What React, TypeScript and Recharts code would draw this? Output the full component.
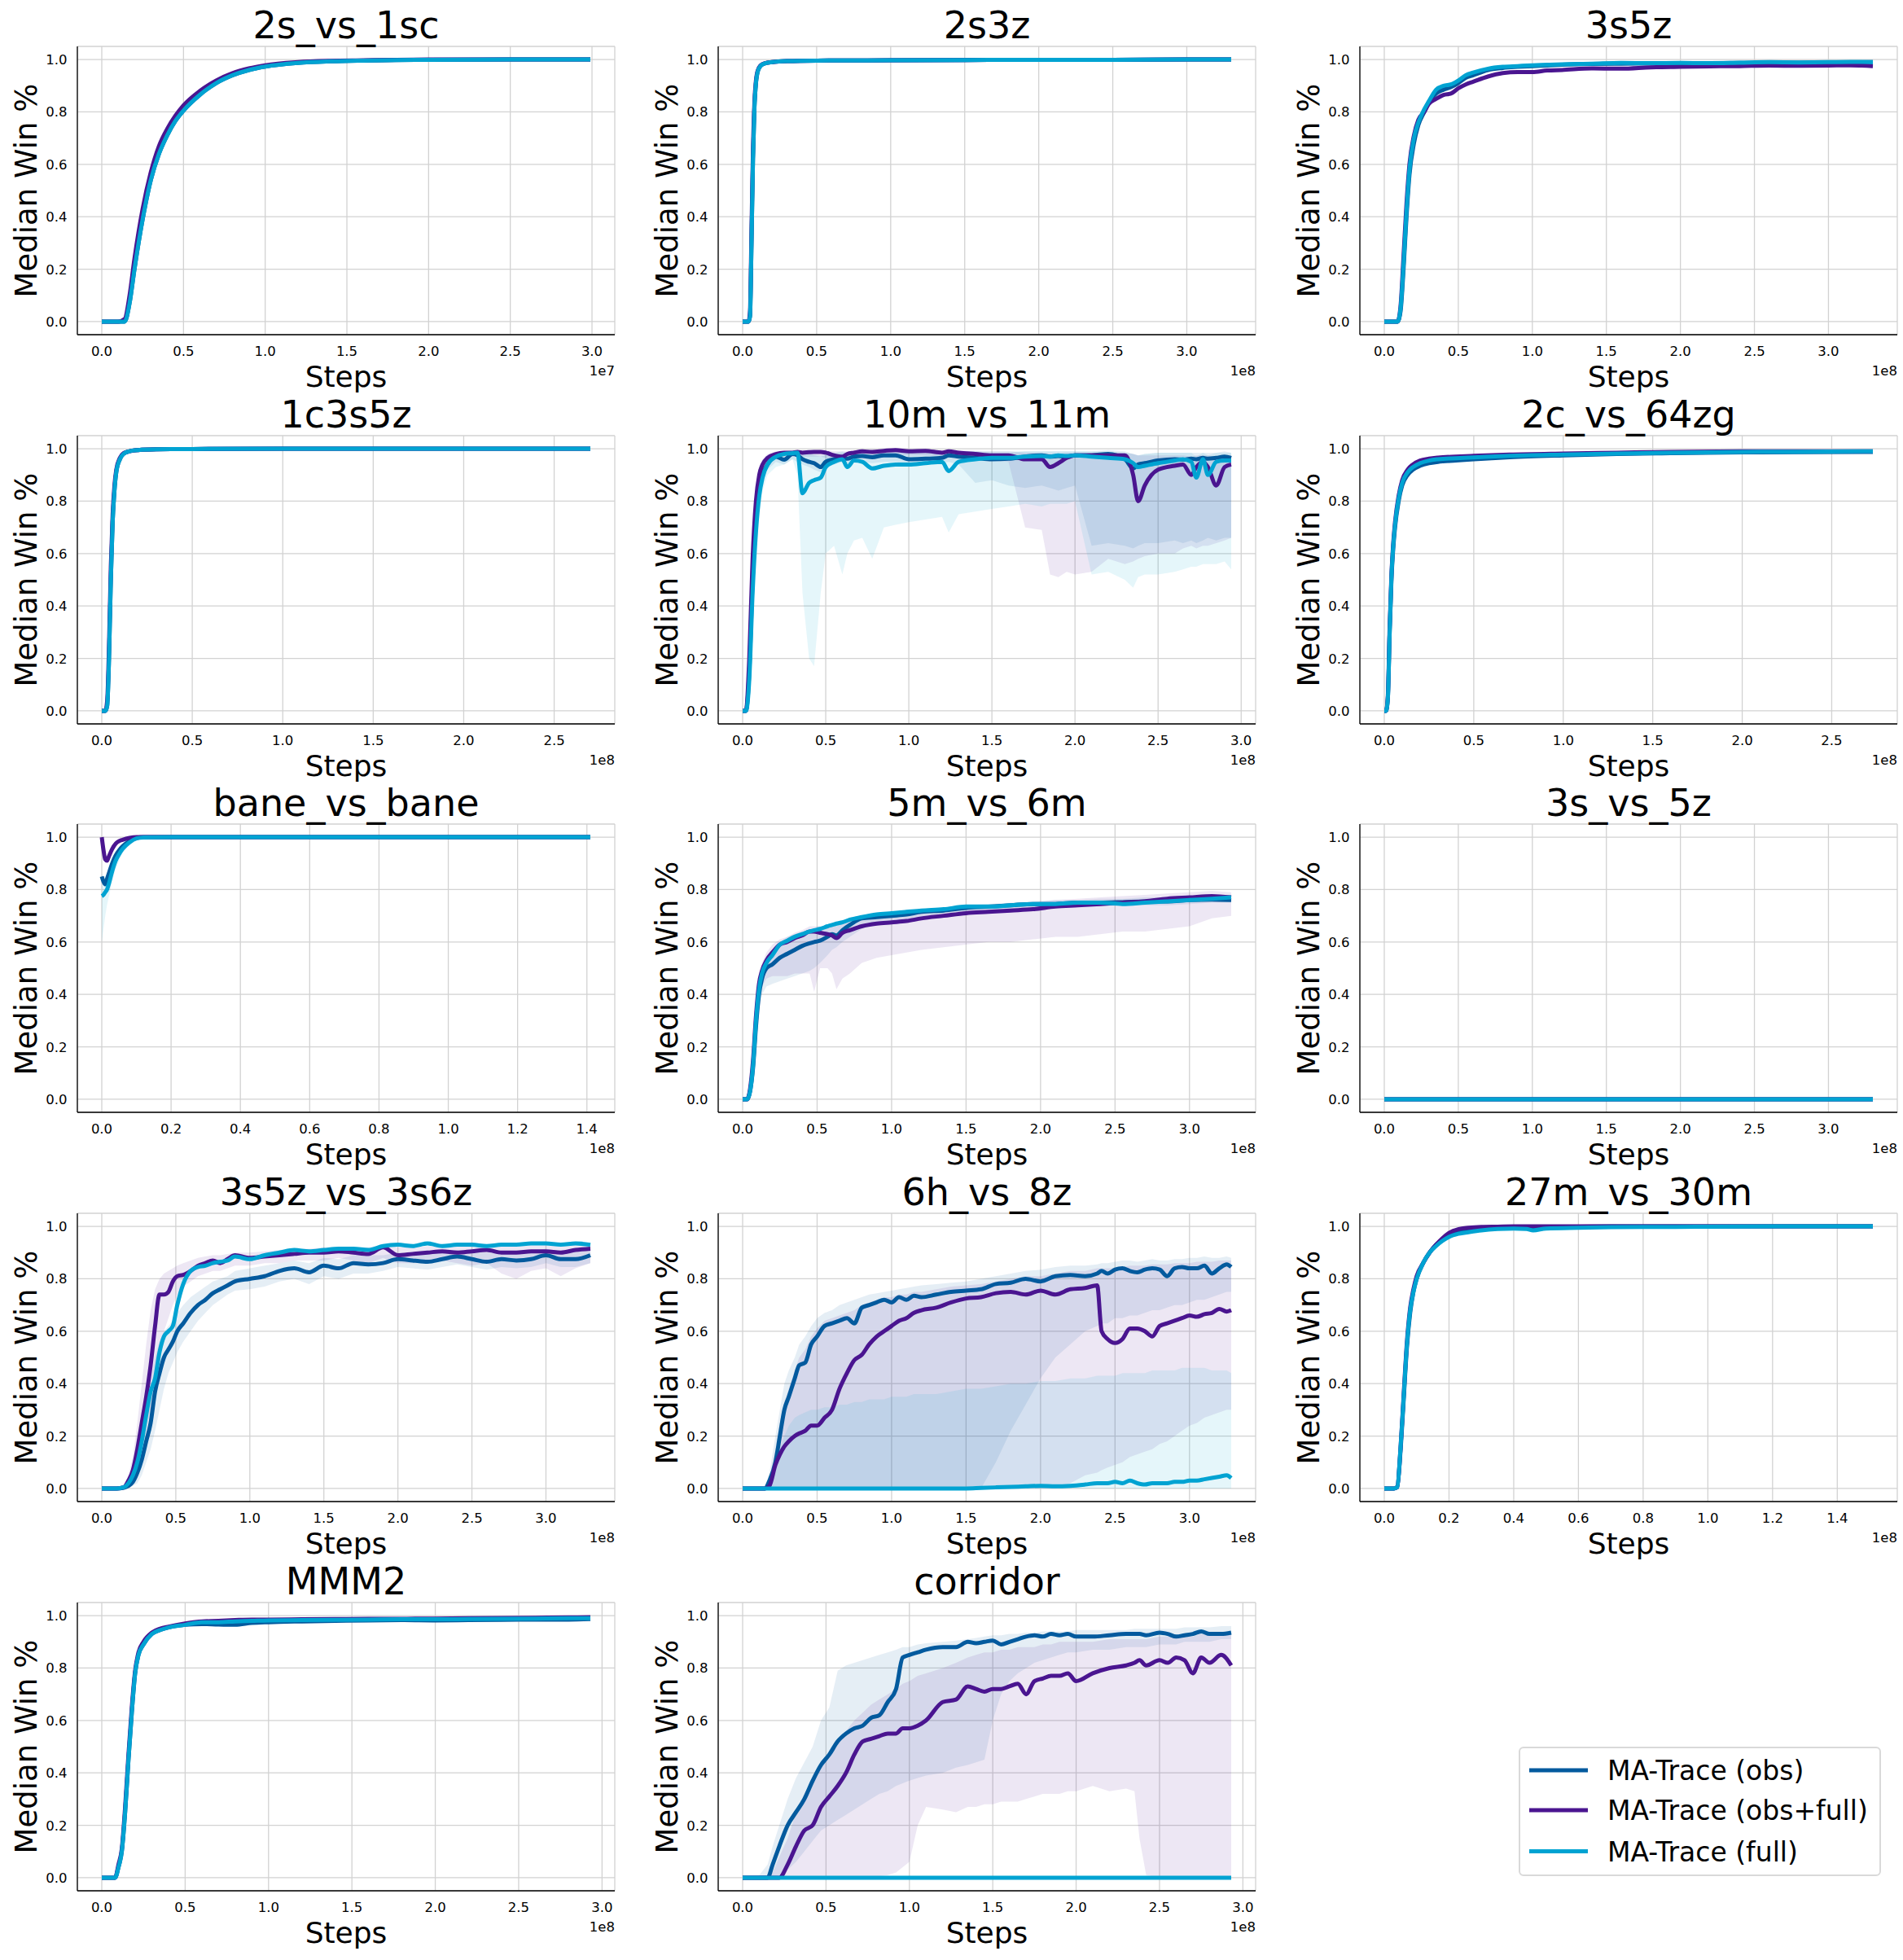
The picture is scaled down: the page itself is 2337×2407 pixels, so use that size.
import React from 'react'
import { ComposedChart, Line, Area, XAxis, YAxis, CartesianGrid } from 'recharts'

const OBS = '#035a9e'
const MIX = '#4a1590'
const FULL = '#00a3d2'
const FONT = 'DejaVu Sans'
const LW = 5

const seriesNames = ['MA-Trace (obs)', 'MA-Trace (obs+full)', 'MA-Trace (full)']
const yTicks = [0, 0.2, 0.4, 0.6, 0.8, 1.0]
const ticksHalf3 = [0, 0.5, 1.0, 1.5, 2.0, 2.5, 3.0]
const ticksHalf25 = [0, 0.5, 1.0, 1.5, 2.0, 2.5]
const ticksFifth14 = [0, 0.2, 0.4, 0.6, 0.8, 1.0, 1.2, 1.4]

// 2s_vs_1sc (x in 1e7)
const s1 = [0, 0.1, 0.14, 0.17, 0.2, 0.25, 0.3, 0.35, 0.4, 0.45, 0.5, 0.6, 0.7, 0.8, 0.9, 1.0, 1.2, 1.4, 1.6, 1.8, 2.0, 2.5, 2.99]
const obs1 = [0, 0, 0, 0.07, 0.2, 0.39, 0.54, 0.64, 0.71, 0.765, 0.805, 0.865, 0.91, 0.94, 0.96, 0.973, 0.987, 0.993, 0.996, 0.998, 0.999, 1, 1]
const mix1 = [0, 0, 0.01, 0.1, 0.24, 0.43, 0.57, 0.67, 0.735, 0.785, 0.825, 0.88, 0.92, 0.948, 0.966, 0.978, 0.99, 0.995, 0.997, 0.999, 1, 1, 1]
const full1 = [0, 0, 0, 0.07, 0.2, 0.39, 0.54, 0.64, 0.71, 0.765, 0.805, 0.865, 0.91, 0.94, 0.96, 0.973, 0.987, 0.993, 0.996, 0.998, 0.999, 1, 1]

// 2s3z
const s2 = [0, 0.04, 0.05, 0.06, 0.07, 0.08, 0.09, 0.1, 0.12, 0.15, 0.2, 0.3, 0.5, 1.0, 1.5, 2.0, 2.5, 3.0, 3.3]
const obs2 = [0, 0, 0.02, 0.3, 0.62, 0.82, 0.91, 0.95, 0.975, 0.985, 0.99, 0.994, 0.996, 0.997, 0.998, 0.999, 0.999, 1, 1]
const mix2 = [0, 0, 0.04, 0.35, 0.66, 0.84, 0.92, 0.955, 0.977, 0.986, 0.99, 0.994, 0.996, 0.997, 0.998, 0.999, 0.999, 1, 1]
const full2 = [0, 0, 0.02, 0.3, 0.62, 0.82, 0.91, 0.95, 0.975, 0.985, 0.99, 0.994, 0.996, 0.997, 0.998, 0.999, 0.999, 1, 1]

// 3s5z
const s3 = [0, 0.05, 0.09, 0.11, 0.13, 0.15, 0.17, 0.2, 0.23, 0.27, 0.3, 0.35, 0.4, 0.45, 0.5, 0.55, 0.6, 0.7, 0.8, 0.9, 1.0, 1.1, 1.2, 1.4, 1.6, 1.8, 2.0, 2.2, 2.4, 2.6, 2.8, 3.0, 3.15, 3.3]
const obs3 = [0, 0, 0, 0.04, 0.2, 0.4, 0.56, 0.68, 0.75, 0.8, 0.835, 0.87, 0.885, 0.895, 0.91, 0.93, 0.94, 0.96, 0.968, 0.972, 0.975, 0.977, 0.98, 0.983, 0.984, 0.985, 0.986, 0.986, 0.987, 0.988, 0.988, 0.989, 0.989, 0.99]
const mix3 = [0, 0, 0, 0.06, 0.25, 0.45, 0.6, 0.71, 0.77, 0.8, 0.83, 0.85, 0.865, 0.87, 0.89, 0.905, 0.915, 0.935, 0.948, 0.952, 0.952, 0.958, 0.96, 0.966, 0.965, 0.97, 0.972, 0.974, 0.975, 0.977, 0.976, 0.977, 0.978, 0.975]
const full3 = [0, 0, 0, 0.05, 0.22, 0.42, 0.58, 0.7, 0.76, 0.81, 0.84, 0.885, 0.9, 0.905, 0.92, 0.94, 0.95, 0.965, 0.972, 0.975, 0.978, 0.98, 0.982, 0.984, 0.987, 0.986, 0.987, 0.986, 0.988, 0.99, 0.989, 0.99, 0.991, 0.99]

// 1c3s5z
const s4 = [0, 0.02, 0.03, 0.04, 0.05, 0.06, 0.07, 0.08, 0.1, 0.12, 0.15, 0.2, 0.3, 0.5, 1.0, 1.5, 2.0, 2.5, 2.7]
const obs4 = [0, 0, 0.02, 0.2, 0.5, 0.72, 0.84, 0.91, 0.96, 0.98, 0.99, 0.995, 0.998, 0.999, 1, 1, 1, 1, 1]
const mix4 = [0, 0, 0.04, 0.25, 0.55, 0.75, 0.86, 0.92, 0.965, 0.983, 0.99, 0.995, 0.998, 0.999, 1, 1, 1, 1, 1]
const full4 = [0, 0, 0.02, 0.2, 0.5, 0.72, 0.84, 0.91, 0.96, 0.98, 0.99, 0.995, 0.998, 0.999, 1, 1, 1, 1, 1]

// 10m_vs_11m
const s5 = [0, 0.02, 0.04, 0.06, 0.08, 0.1, 0.12, 0.15, 0.2, 0.25, 0.3, 0.33, 0.36, 0.4, 0.43, 0.47, 0.5, 0.55, 0.6, 0.63, 0.67, 0.72, 0.78, 0.85, 0.92, 1.0, 1.1, 1.2, 1.24, 1.3, 1.4, 1.5, 1.6, 1.7, 1.8, 1.85, 1.9, 1.95, 2.0, 2.1, 2.2, 2.3, 2.35, 2.38, 2.42, 2.5, 2.6, 2.65, 2.7, 2.73, 2.77, 2.8, 2.85, 2.9, 2.94]
const obs5 = [0, 0, 0.15, 0.5, 0.72, 0.84, 0.9, 0.94, 0.97, 0.958, 0.98, 0.975, 0.96, 0.95, 0.945, 0.93, 0.95, 0.96, 0.965, 0.962, 0.97, 0.972, 0.968, 0.975, 0.975, 0.96, 0.962, 0.965, 0.975, 0.97, 0.965, 0.96, 0.962, 0.97, 0.975, 0.97, 0.972, 0.97, 0.975, 0.975, 0.98, 0.96, 0.925, 0.94, 0.945, 0.955, 0.96, 0.958, 0.962, 0.96, 0.965, 0.962, 0.965, 0.97, 0.965]
const mix5 = [0, 0, 0.2, 0.58, 0.8, 0.9, 0.94, 0.965, 0.98, 0.985, 0.985, 0.988, 0.985, 0.987, 0.988, 0.988, 0.985, 0.975, 0.97, 0.98, 0.985, 0.99, 0.988, 0.992, 0.995, 0.99, 0.992, 0.985, 0.99, 0.985, 0.98, 0.975, 0.975, 0.96, 0.96, 0.93, 0.945, 0.965, 0.975, 0.975, 0.975, 0.975, 0.9, 0.8, 0.86, 0.92, 0.935, 0.94, 0.9, 0.93, 0.95, 0.93, 0.86, 0.93, 0.94]
const full5 = [0, 0, 0.12, 0.45, 0.68, 0.82, 0.89, 0.94, 0.97, 0.98, 0.983, 0.985, 0.83, 0.87, 0.88, 0.89, 0.93, 0.95, 0.96, 0.93, 0.955, 0.95, 0.925, 0.935, 0.94, 0.94, 0.945, 0.95, 0.915, 0.95, 0.96, 0.965, 0.965, 0.97, 0.972, 0.97, 0.975, 0.972, 0.975, 0.97, 0.965, 0.96, 0.945, 0.93, 0.935, 0.945, 0.955, 0.96, 0.95, 0.89, 0.96, 0.9, 0.95, 0.955, 0.955]
const obsLo5 = [0, 0, 0.1, 0.4, 0.65, 0.8, 0.87, 0.92, 0.95, 0.94, 0.96, 0.95, 0.94, 0.93, 0.92, 0.91, 0.93, 0.94, 0.95, 0.94, 0.95, 0.95, 0.945, 0.95, 0.95, 0.94, 0.94, 0.945, 0.95, 0.94, 0.87, 0.88, 0.86, 0.85, 0.86, 0.85, 0.84, 0.85, 0.86, 0.63, 0.64, 0.63, 0.62, 0.63, 0.64, 0.64, 0.65, 0.64, 0.65, 0.64, 0.65, 0.66, 0.65, 0.66, 0.66]
const obsHi5 = [0, 0, 0.2, 0.6, 0.8, 0.9, 0.94, 0.965, 0.985, 0.985, 0.99, 0.99, 0.985, 0.98, 0.975, 0.97, 0.975, 0.98, 0.985, 0.985, 0.985, 0.99, 0.985, 0.99, 0.99, 0.985, 0.985, 0.985, 0.99, 0.99, 0.99, 0.985, 0.985, 0.99, 0.99, 0.99, 0.99, 0.99, 0.99, 0.99, 0.995, 0.99, 0.98, 0.975, 0.98, 0.985, 0.985, 0.985, 0.985, 0.985, 0.985, 0.985, 0.985, 0.99, 0.985]
const mixLo5 = [0, 0, 0.12, 0.5, 0.75, 0.86, 0.91, 0.94, 0.96, 0.97, 0.97, 0.975, 0.97, 0.97, 0.97, 0.97, 0.965, 0.95, 0.95, 0.96, 0.965, 0.97, 0.97, 0.975, 0.98, 0.975, 0.975, 0.97, 0.97, 0.965, 0.96, 0.955, 0.95, 0.7, 0.69, 0.52, 0.51, 0.53, 0.52, 0.53, 0.58, 0.56, 0.57, 0.58, 0.59, 0.6, 0.6, 0.62, 0.63, 0.62, 0.63, 0.63, 0.64, 0.65, 0.66]
const mixHi5 = [0, 0, 0.3, 0.65, 0.85, 0.93, 0.96, 0.98, 0.99, 0.995, 0.995, 0.995, 0.995, 0.995, 0.995, 0.995, 0.995, 0.99, 0.99, 0.99, 0.995, 0.998, 0.995, 0.998, 1, 0.998, 0.998, 0.995, 0.995, 0.995, 0.99, 0.99, 0.99, 0.985, 0.985, 0.98, 0.98, 0.985, 0.985, 0.985, 0.985, 0.985, 0.98, 0.975, 0.975, 0.975, 0.975, 0.975, 0.97, 0.975, 0.975, 0.975, 0.97, 0.975, 0.975]
const fullLo5 = [0, 0, 0.05, 0.35, 0.6, 0.75, 0.84, 0.9, 0.93, 0.94, 0.96, 0.9, 0.45, 0.2, 0.17, 0.45, 0.6, 0.63, 0.52, 0.6, 0.65, 0.66, 0.58, 0.7, 0.71, 0.72, 0.73, 0.74, 0.68, 0.75, 0.76, 0.77, 0.78, 0.79, 0.78, 0.79, 0.79, 0.79, 0.8, 0.52, 0.53, 0.5, 0.47, 0.51, 0.52, 0.52, 0.53, 0.54, 0.55, 0.55, 0.56, 0.56, 0.56, 0.57, 0.54]
const fullHi5 = [0, 0, 0.25, 0.62, 0.82, 0.91, 0.95, 0.97, 0.985, 0.99, 0.995, 0.995, 0.99, 0.985, 0.98, 0.975, 0.98, 0.985, 0.99, 0.985, 0.99, 0.99, 0.985, 0.985, 0.99, 0.99, 0.99, 0.99, 0.985, 0.99, 0.99, 0.99, 0.99, 0.99, 0.99, 0.99, 0.99, 0.99, 0.99, 0.99, 0.99, 0.985, 0.98, 0.975, 0.98, 0.985, 0.985, 0.985, 0.985, 0.97, 0.985, 0.975, 0.985, 0.985, 0.985]

// 2c_vs_64zg
const s6 = [0, 0.01, 0.02, 0.03, 0.04, 0.05, 0.06, 0.08, 0.1, 0.13, 0.16, 0.2, 0.25, 0.3, 0.4, 0.5, 0.7, 1.0, 1.3, 1.6, 2.0, 2.3, 2.73]
const obs6 = [0, 0, 0.05, 0.3, 0.5, 0.62, 0.7, 0.8, 0.86, 0.9, 0.92, 0.935, 0.945, 0.95, 0.955, 0.96, 0.968, 0.975, 0.98, 0.983, 0.986, 0.987, 0.988]
const mix6 = [0, 0, 0.06, 0.32, 0.52, 0.64, 0.72, 0.82, 0.88, 0.92, 0.94, 0.955, 0.962, 0.966, 0.97, 0.973, 0.978, 0.982, 0.985, 0.988, 0.99, 0.99, 0.99]
const full6 = [0, 0, 0.05, 0.3, 0.51, 0.63, 0.71, 0.81, 0.87, 0.91, 0.93, 0.945, 0.955, 0.96, 0.964, 0.967, 0.973, 0.978, 0.982, 0.985, 0.988, 0.989, 0.99]

// bane_vs_bane
const s7 = [0, 0.005, 0.01, 0.015, 0.02, 0.03, 0.04, 0.05, 0.06, 0.08, 0.1, 0.12, 0.2, 0.4, 0.6, 0.8, 1.0, 1.2, 1.41]
const obs7 = [0.85, 0.83, 0.82, 0.84, 0.86, 0.9, 0.93, 0.95, 0.965, 0.985, 0.997, 1, 1, 1, 1, 1, 1, 1, 1]
const mix7 = [1.0, 0.95, 0.915, 0.91, 0.925, 0.955, 0.975, 0.985, 0.99, 0.997, 1, 1, 1, 1, 1, 1, 1, 1, 1]
const full7 = [0.775, 0.78, 0.79, 0.8, 0.82, 0.87, 0.91, 0.935, 0.955, 0.98, 0.995, 0.999, 1, 1, 1, 1, 1, 1, 1]
const fullLo7 = [0.6, 0.65, 0.7, 0.74, 0.77, 0.83, 0.88, 0.91, 0.94, 0.97, 0.99, 0.998, 1, 1, 1, 1, 1, 1, 1]
const fullHi7 = [0.86, 0.85, 0.85, 0.86, 0.88, 0.92, 0.945, 0.96, 0.972, 0.99, 1, 1, 1, 1, 1, 1, 1, 1, 1]

// 5m_vs_6m
const s8 = [0, 0.03, 0.05, 0.07, 0.09, 0.11, 0.13, 0.16, 0.2, 0.25, 0.3, 0.35, 0.4, 0.45, 0.48, 0.52, 0.57, 0.6, 0.63, 0.67, 0.72, 0.8, 0.9, 1.0, 1.1, 1.2, 1.35, 1.5, 1.65, 1.8, 1.95, 2.1, 2.25, 2.4, 2.55, 2.7, 2.85, 3.0, 3.15, 3.28]
const obs8 = [0, 0, 0.03, 0.12, 0.28, 0.4, 0.46, 0.5, 0.515, 0.54, 0.555, 0.57, 0.585, 0.595, 0.6, 0.605, 0.62, 0.63, 0.625, 0.645, 0.665, 0.69, 0.695, 0.7, 0.705, 0.715, 0.72, 0.73, 0.735, 0.74, 0.745, 0.745, 0.75, 0.75, 0.752, 0.755, 0.755, 0.76, 0.762, 0.76]
const mix8 = [0, 0, 0.04, 0.15, 0.32, 0.44, 0.49, 0.53, 0.56, 0.59, 0.6, 0.615, 0.625, 0.64, 0.64, 0.635, 0.63, 0.625, 0.615, 0.635, 0.645, 0.66, 0.67, 0.675, 0.68, 0.69, 0.7, 0.71, 0.715, 0.72, 0.725, 0.735, 0.74, 0.745, 0.75, 0.755, 0.765, 0.77, 0.775, 0.77]
const full8 = [0, 0, 0.03, 0.13, 0.3, 0.42, 0.48, 0.52, 0.55, 0.59, 0.605, 0.62, 0.63, 0.64, 0.645, 0.65, 0.66, 0.665, 0.67, 0.675, 0.685, 0.695, 0.705, 0.71, 0.715, 0.72, 0.725, 0.735, 0.735, 0.74, 0.745, 0.745, 0.75, 0.75, 0.745, 0.75, 0.755, 0.76, 0.765, 0.77]
const obsLo8 = [0, 0, 0.02, 0.08, 0.22, 0.34, 0.4, 0.43, 0.44, 0.45, 0.46, 0.47, 0.48, 0.49, 0.5, 0.52, 0.55, 0.57, 0.58, 0.6, 0.62, 0.65, 0.665, 0.675, 0.68, 0.69, 0.7, 0.71, 0.715, 0.72, 0.725, 0.73, 0.735, 0.735, 0.74, 0.74, 0.74, 0.745, 0.75, 0.75]
const obsHi8 = [0, 0, 0.05, 0.17, 0.33, 0.45, 0.5, 0.54, 0.57, 0.6, 0.62, 0.63, 0.64, 0.645, 0.65, 0.655, 0.66, 0.665, 0.67, 0.675, 0.685, 0.7, 0.71, 0.715, 0.72, 0.725, 0.73, 0.74, 0.745, 0.75, 0.755, 0.76, 0.76, 0.765, 0.765, 0.77, 0.77, 0.775, 0.78, 0.78]
const mixLo8 = [0, 0, 0.02, 0.1, 0.25, 0.38, 0.43, 0.46, 0.47, 0.47, 0.47, 0.48, 0.48, 0.48, 0.41, 0.5, 0.5, 0.48, 0.42, 0.46, 0.48, 0.52, 0.54, 0.55, 0.56, 0.57, 0.58, 0.59, 0.6, 0.6, 0.61, 0.62, 0.62, 0.63, 0.64, 0.64, 0.65, 0.66, 0.69, 0.7]
const mixHi8 = [0, 0, 0.06, 0.2, 0.36, 0.48, 0.52, 0.56, 0.59, 0.61, 0.62, 0.635, 0.645, 0.66, 0.66, 0.66, 0.66, 0.66, 0.66, 0.67, 0.68, 0.69, 0.7, 0.705, 0.71, 0.72, 0.725, 0.735, 0.74, 0.745, 0.75, 0.76, 0.765, 0.77, 0.775, 0.78, 0.785, 0.79, 0.795, 0.79]

// 3s_vs_5z
const s9 = [0, 0.5, 1.0, 1.5, 2.0, 2.5, 3.0, 3.3]
const obs9 = [0, 0, 0, 0, 0, 0, 0, 0]
const mix9 = [0, 0, 0, 0, 0, 0, 0, 0]
const full9 = [0, 0, 0, 0, 0, 0, 0, 0]

// 3s5z_vs_3s6z
const s10 = [0, 0.1, 0.15, 0.18, 0.21, 0.24, 0.27, 0.3, 0.33, 0.36, 0.39, 0.42, 0.45, 0.48, 0.51, 0.55, 0.6, 0.65, 0.7, 0.75, 0.8, 0.85, 0.9, 1.0, 1.1, 1.2, 1.3, 1.4, 1.5, 1.6, 1.7, 1.8, 1.9, 2.0, 2.1, 2.2, 2.3, 2.4, 2.5, 2.6, 2.7, 2.8, 2.9, 3.0, 3.1, 3.2, 3.3]
const obs10 = [0, 0, 0.003, 0.01, 0.025, 0.06, 0.11, 0.18, 0.25, 0.37, 0.44, 0.5, 0.53, 0.56, 0.6, 0.63, 0.67, 0.7, 0.72, 0.745, 0.76, 0.775, 0.79, 0.8, 0.81, 0.83, 0.84, 0.825, 0.85, 0.84, 0.86, 0.855, 0.86, 0.875, 0.87, 0.865, 0.875, 0.885, 0.875, 0.865, 0.875, 0.87, 0.875, 0.89, 0.875, 0.875, 0.89]
const mix10 = [0, 0, 0.005, 0.03, 0.07, 0.15, 0.25, 0.35, 0.47, 0.62, 0.74, 0.74, 0.75, 0.79, 0.81, 0.815, 0.83, 0.85, 0.86, 0.87, 0.86, 0.875, 0.89, 0.88, 0.885, 0.89, 0.895, 0.9, 0.9, 0.905, 0.9, 0.895, 0.92, 0.89, 0.895, 0.9, 0.905, 0.9, 0.905, 0.91, 0.9, 0.9, 0.905, 0.905, 0.9, 0.91, 0.915]
const full10 = [0, 0, 0.005, 0.02, 0.05, 0.1, 0.18, 0.28, 0.37, 0.42, 0.52, 0.58, 0.6, 0.62, 0.7, 0.78, 0.83, 0.845, 0.85, 0.86, 0.865, 0.87, 0.885, 0.875, 0.89, 0.9, 0.91, 0.905, 0.91, 0.915, 0.915, 0.91, 0.925, 0.93, 0.925, 0.935, 0.925, 0.93, 0.93, 0.925, 0.93, 0.93, 0.935, 0.935, 0.93, 0.935, 0.93]
const obsLo10 = [0, 0, 0, 0, 0.01, 0.02, 0.05, 0.1, 0.15, 0.22, 0.3, 0.38, 0.44, 0.48, 0.52, 0.56, 0.6, 0.64, 0.67, 0.7, 0.72, 0.74, 0.755, 0.76, 0.77, 0.79, 0.8, 0.78, 0.81, 0.8, 0.82, 0.82, 0.83, 0.845, 0.84, 0.835, 0.845, 0.855, 0.845, 0.835, 0.845, 0.84, 0.845, 0.86, 0.845, 0.845, 0.86]
const obsHi10 = [0, 0, 0.01, 0.03, 0.06, 0.12, 0.2, 0.3, 0.4, 0.5, 0.56, 0.6, 0.62, 0.64, 0.67, 0.7, 0.73, 0.75, 0.77, 0.79, 0.8, 0.81, 0.83, 0.84, 0.85, 0.86, 0.87, 0.86, 0.88, 0.875, 0.89, 0.89, 0.89, 0.9, 0.9, 0.9, 0.905, 0.91, 0.905, 0.9, 0.905, 0.9, 0.905, 0.915, 0.905, 0.905, 0.915]
const mixLo10 = [0, 0, 0, 0.01, 0.03, 0.08, 0.14, 0.22, 0.3, 0.42, 0.52, 0.6, 0.65, 0.7, 0.74, 0.77, 0.79, 0.81, 0.82, 0.83, 0.83, 0.84, 0.85, 0.85, 0.86, 0.86, 0.87, 0.87, 0.87, 0.88, 0.87, 0.86, 0.88, 0.86, 0.86, 0.86, 0.87, 0.86, 0.85, 0.86, 0.82, 0.8, 0.83, 0.84, 0.81, 0.84, 0.86]
const mixHi10 = [0, 0, 0.01, 0.05, 0.12, 0.25, 0.4, 0.55, 0.68, 0.76, 0.8, 0.82, 0.83, 0.84, 0.85, 0.86, 0.87, 0.88, 0.885, 0.89, 0.89, 0.895, 0.9, 0.9, 0.905, 0.91, 0.915, 0.915, 0.92, 0.92, 0.92, 0.92, 0.93, 0.92, 0.92, 0.925, 0.925, 0.925, 0.93, 0.93, 0.925, 0.925, 0.93, 0.93, 0.925, 0.93, 0.935]

// 6h_vs_8z
const s11 = [0, 0.1, 0.15, 0.18, 0.22, 0.25, 0.28, 0.31, 0.35, 0.38, 0.42, 0.46, 0.5, 0.55, 0.6, 0.65, 0.7, 0.75, 0.8, 0.85, 0.9, 0.95, 1.0, 1.05, 1.1, 1.15, 1.2, 1.3, 1.4, 1.5, 1.6, 1.7, 1.8, 1.9, 2.0, 2.1, 2.2, 2.3, 2.38, 2.41, 2.45, 2.5, 2.55, 2.6, 2.65, 2.7, 2.75, 2.8, 2.85, 2.9, 2.95, 3.0, 3.05, 3.1, 3.15, 3.2, 3.25, 3.28]
const obs11 = [0, 0, 0, 0.03, 0.1, 0.2, 0.3, 0.35, 0.42, 0.47, 0.48, 0.55, 0.58, 0.62, 0.63, 0.64, 0.65, 0.63, 0.69, 0.7, 0.71, 0.72, 0.71, 0.73, 0.72, 0.735, 0.73, 0.74, 0.75, 0.755, 0.76, 0.78, 0.785, 0.8, 0.79, 0.81, 0.815, 0.81, 0.82, 0.83, 0.82, 0.835, 0.84, 0.83, 0.825, 0.835, 0.84, 0.835, 0.81, 0.84, 0.845, 0.84, 0.84, 0.85, 0.82, 0.84, 0.855, 0.845]
const mix11 = [0, 0, 0, 0.01, 0.09, 0.13, 0.16, 0.18, 0.2, 0.21, 0.22, 0.24, 0.24, 0.27, 0.3, 0.38, 0.44, 0.49, 0.51, 0.55, 0.58, 0.6, 0.62, 0.64, 0.65, 0.67, 0.68, 0.69, 0.71, 0.725, 0.73, 0.745, 0.75, 0.74, 0.755, 0.74, 0.76, 0.765, 0.775, 0.6, 0.57, 0.555, 0.57, 0.61, 0.61, 0.6, 0.58, 0.62, 0.63, 0.64, 0.65, 0.66, 0.655, 0.665, 0.67, 0.685, 0.675, 0.68]
const full11 = [0, 0, 0, 0, 0, 0, 0, 0, 0, 0, 0, 0, 0, 0, 0, 0, 0, 0, 0, 0, 0, 0, 0, 0, 0, 0, 0, 0, 0, 0, 0.002, 0.004, 0.006, 0.008, 0.01, 0.008, 0.01, 0.015, 0.02, 0.02, 0.02, 0.025, 0.02, 0.03, 0.02, 0.015, 0.02, 0.02, 0.02, 0.025, 0.025, 0.03, 0.03, 0.035, 0.04, 0.045, 0.05, 0.04]
const obsLo11 = [0, 0, 0, 0, 0, 0, 0, 0, 0, 0, 0, 0, 0, 0, 0, 0, 0, 0, 0, 0, 0, 0, 0, 0, 0, 0, 0, 0, 0, 0, 0, 0.1, 0.22, 0.32, 0.42, 0.5, 0.55, 0.6, 0.62, 0.63, 0.63, 0.65, 0.65, 0.66, 0.66, 0.67, 0.68, 0.68, 0.69, 0.7, 0.7, 0.71, 0.72, 0.72, 0.73, 0.74, 0.75, 0.75]
const obsHi11 = [0, 0, 0, 0.06, 0.2, 0.3, 0.4, 0.45, 0.5, 0.55, 0.58, 0.62, 0.65, 0.67, 0.68, 0.7, 0.71, 0.72, 0.73, 0.74, 0.745, 0.75, 0.755, 0.76, 0.765, 0.77, 0.775, 0.78, 0.785, 0.79, 0.8, 0.81, 0.82, 0.83, 0.835, 0.845, 0.85, 0.85, 0.855, 0.86, 0.86, 0.865, 0.87, 0.87, 0.865, 0.87, 0.875, 0.87, 0.87, 0.875, 0.875, 0.88, 0.88, 0.885, 0.88, 0.88, 0.885, 0.88]
const mixLo11 = [0, 0, 0, 0, 0, 0, 0, 0, 0, 0, 0, 0, 0, 0, 0, 0, 0, 0, 0, 0, 0, 0, 0, 0, 0, 0, 0, 0, 0, 0, 0, 0, 0, 0, 0, 0, 0.02, 0.05, 0.06, 0.07, 0.08, 0.09, 0.1, 0.12, 0.13, 0.14, 0.15, 0.17, 0.18, 0.2, 0.22, 0.24, 0.25, 0.27, 0.28, 0.29, 0.3, 0.3]
const mixHi11 = [0, 0, 0, 0.04, 0.15, 0.25, 0.33, 0.38, 0.45, 0.5, 0.53, 0.58, 0.61, 0.64, 0.65, 0.66, 0.67, 0.68, 0.7, 0.71, 0.72, 0.73, 0.73, 0.74, 0.74, 0.75, 0.75, 0.76, 0.77, 0.775, 0.78, 0.79, 0.8, 0.81, 0.81, 0.82, 0.83, 0.83, 0.84, 0.84, 0.84, 0.84, 0.845, 0.85, 0.85, 0.85, 0.855, 0.855, 0.855, 0.86, 0.86, 0.86, 0.865, 0.865, 0.865, 0.87, 0.87, 0.87]
const fullLo11 = [0, 0, 0, 0, 0, 0, 0, 0, 0, 0, 0, 0, 0, 0, 0, 0, 0, 0, 0, 0, 0, 0, 0, 0, 0, 0, 0, 0, 0, 0, 0, 0, 0, 0, 0, 0, 0, 0, 0, 0, 0, 0, 0, 0, 0, 0, 0, 0, 0, 0, 0, 0, 0, 0, 0, 0, 0, 0]
const fullHi11 = [0, 0, 0, 0.02, 0.08, 0.15, 0.2, 0.24, 0.27, 0.28, 0.29, 0.3, 0.3, 0.31, 0.31, 0.32, 0.32, 0.33, 0.33, 0.34, 0.34, 0.34, 0.35, 0.35, 0.35, 0.36, 0.36, 0.36, 0.37, 0.38, 0.38, 0.39, 0.4, 0.4, 0.41, 0.41, 0.42, 0.42, 0.43, 0.43, 0.43, 0.43, 0.44, 0.44, 0.44, 0.44, 0.45, 0.45, 0.45, 0.45, 0.46, 0.46, 0.46, 0.46, 0.45, 0.45, 0.45, 0.44]

// 27m_vs_30m
const s12 = [0, 0.03, 0.04, 0.05, 0.06, 0.07, 0.08, 0.09, 0.1, 0.12, 0.14, 0.16, 0.18, 0.2, 0.23, 0.26, 0.3, 0.35, 0.4, 0.44, 0.46, 0.5, 0.6, 0.7, 0.8, 0.9, 1.0, 1.2, 1.4, 1.51]
const obs12 = [0, 0, 0.005, 0.14, 0.34, 0.54, 0.67, 0.75, 0.8, 0.86, 0.9, 0.93, 0.95, 0.97, 0.985, 0.99, 0.995, 0.997, 0.998, 0.998, 0.998, 0.999, 0.999, 1, 1, 1, 1, 1, 1, 1]
const mix12 = [0, 0, 0.005, 0.15, 0.36, 0.56, 0.69, 0.76, 0.81, 0.86, 0.9, 0.93, 0.955, 0.975, 0.99, 0.995, 0.998, 0.999, 1, 1, 1, 1, 1, 1, 1, 1, 1, 1, 1, 1]
const full12 = [0, 0, 0.005, 0.15, 0.35, 0.55, 0.68, 0.75, 0.8, 0.86, 0.9, 0.925, 0.945, 0.96, 0.972, 0.978, 0.985, 0.99, 0.992, 0.99, 0.985, 0.992, 0.995, 0.997, 0.998, 0.998, 0.999, 1, 1, 1]

// MMM2
const s13 = [0, 0.06, 0.08, 0.1, 0.12, 0.14, 0.16, 0.18, 0.2, 0.22, 0.25, 0.3, 0.35, 0.4, 0.5, 0.6, 0.7, 0.8, 0.9, 1.0, 1.2, 1.4, 1.6, 1.8, 2.0, 2.2, 2.4, 2.6, 2.8, 2.93]
const obs13 = [0, 0, 0, 0.04, 0.1, 0.25, 0.45, 0.63, 0.78, 0.85, 0.89, 0.93, 0.945, 0.955, 0.965, 0.968, 0.966, 0.965, 0.972, 0.975, 0.978, 0.98, 0.982, 0.983, 0.982, 0.983, 0.984, 0.985, 0.985, 0.987]
const mix13 = [0, 0, 0, 0.05, 0.11, 0.27, 0.47, 0.65, 0.79, 0.86, 0.9, 0.935, 0.95, 0.958, 0.97, 0.978, 0.98, 0.983, 0.985, 0.985, 0.986, 0.987, 0.988, 0.988, 0.989, 0.99, 0.991, 0.992, 0.993, 0.994]
const full13 = [0, 0, 0, 0.04, 0.1, 0.25, 0.45, 0.63, 0.78, 0.85, 0.89, 0.93, 0.945, 0.955, 0.965, 0.975, 0.975, 0.978, 0.98, 0.982, 0.983, 0.984, 0.985, 0.986, 0.986, 0.987, 0.988, 0.989, 0.99, 0.99]

// corridor
const s14 = [0, 0.1, 0.15, 0.18, 0.22, 0.27, 0.32, 0.37, 0.42, 0.47, 0.52, 0.57, 0.62, 0.67, 0.72, 0.77, 0.82, 0.87, 0.92, 0.96, 1.0, 1.05, 1.1, 1.2, 1.28, 1.35, 1.4, 1.45, 1.5, 1.55, 1.6, 1.65, 1.7, 1.75, 1.8, 1.85, 1.9, 1.95, 2.0, 2.1, 2.2, 2.3, 2.35, 2.38, 2.42, 2.5, 2.55, 2.6, 2.65, 2.7, 2.75, 2.8, 2.87, 2.93]
const obs14 = [0, 0, 0, 0.05, 0.12, 0.2, 0.25, 0.3, 0.37, 0.43, 0.47, 0.52, 0.55, 0.57, 0.58, 0.61, 0.62, 0.67, 0.72, 0.84, 0.85, 0.86, 0.87, 0.88, 0.88, 0.9, 0.895, 0.9, 0.905, 0.89, 0.9, 0.91, 0.92, 0.925, 0.92, 0.93, 0.925, 0.93, 0.92, 0.92, 0.925, 0.93, 0.93, 0.93, 0.925, 0.935, 0.93, 0.92, 0.925, 0.93, 0.94, 0.93, 0.93, 0.935]
const mix14 = [0, 0, 0, 0, 0, 0.05, 0.12, 0.18, 0.2, 0.27, 0.31, 0.35, 0.4, 0.47, 0.52, 0.53, 0.54, 0.55, 0.55, 0.57, 0.57, 0.58, 0.6, 0.67, 0.68, 0.73, 0.72, 0.71, 0.72, 0.72, 0.73, 0.74, 0.7, 0.75, 0.76, 0.77, 0.77, 0.78, 0.75, 0.78, 0.8, 0.81, 0.82, 0.83, 0.81, 0.83, 0.82, 0.84, 0.83, 0.78, 0.84, 0.82, 0.85, 0.81]
const full14 = [0, 0, 0, 0, 0, 0, 0, 0, 0, 0, 0, 0, 0, 0, 0, 0, 0, 0, 0, 0, 0, 0, 0, 0, 0, 0, 0, 0, 0, 0, 0, 0, 0, 0, 0, 0, 0, 0, 0, 0, 0, 0, 0, 0, 0, 0, 0, 0, 0, 0, 0, 0, 0, 0]
const obsLo14 = [0, 0, 0, 0, 0.01, 0.03, 0.06, 0.1, 0.14, 0.18, 0.2, 0.22, 0.24, 0.26, 0.28, 0.3, 0.32, 0.33, 0.35, 0.36, 0.37, 0.38, 0.39, 0.4, 0.42, 0.43, 0.44, 0.45, 0.6, 0.7, 0.75, 0.78, 0.8, 0.82, 0.83, 0.84, 0.85, 0.86, 0.86, 0.87, 0.87, 0.88, 0.88, 0.88, 0.88, 0.89, 0.89, 0.89, 0.9, 0.9, 0.9, 0.9, 0.91, 0.91]
const obsHi14 = [0, 0.01, 0.05, 0.12, 0.2, 0.3, 0.38, 0.44, 0.5, 0.6, 0.65, 0.79, 0.81, 0.82, 0.83, 0.84, 0.85, 0.86, 0.87, 0.88, 0.88, 0.89, 0.895, 0.9, 0.905, 0.91, 0.915, 0.92, 0.925, 0.925, 0.93, 0.93, 0.935, 0.935, 0.94, 0.94, 0.94, 0.94, 0.945, 0.945, 0.945, 0.945, 0.95, 0.95, 0.95, 0.95, 0.95, 0.95, 0.955, 0.955, 0.955, 0.955, 0.96, 0.96]
const mixLo14 = [0, 0, 0, 0, 0, 0, 0, 0, 0, 0, 0, 0, 0, 0, 0, 0, 0.005, 0.01, 0.02, 0.04, 0.06, 0.2, 0.27, 0.26, 0.25, 0.27, 0.27, 0.28, 0.28, 0.29, 0.29, 0.29, 0.3, 0.31, 0.32, 0.32, 0.32, 0.33, 0.33, 0.35, 0.33, 0.34, 0.33, 0.15, 0.01, 0, 0, 0, 0, 0, 0, 0, 0, 0]
const mixHi14 = [0, 0, 0, 0.02, 0.08, 0.15, 0.25, 0.32, 0.38, 0.43, 0.48, 0.52, 0.56, 0.6, 0.63, 0.66, 0.68, 0.7, 0.72, 0.74, 0.75, 0.77, 0.78, 0.8, 0.82, 0.84, 0.85, 0.86, 0.86, 0.87, 0.87, 0.88, 0.88, 0.88, 0.89, 0.89, 0.9, 0.9, 0.9, 0.9, 0.91, 0.91, 0.91, 0.91, 0.91, 0.92, 0.92, 0.92, 0.92, 0.92, 0.93, 0.93, 0.93, 0.93]

type Band = [number[], number[]]
interface PanelDef {
  title: string
  unit: string
  ticks: number[]
  last: number
  steps: number[]
  obs: number[]
  mix: number[]
  full: number[]
  obsBand?: Band
  mixBand?: Band
  fullBand?: Band
}

const panels: PanelDef[] = [
  { title: '2s_vs_1sc', unit: '1e7', ticks: ticksHalf3, last: 2.99, steps: s1, obs: obs1, mix: mix1, full: full1 },
  { title: '2s3z', unit: '1e8', ticks: ticksHalf3, last: 3.3, steps: s2, obs: obs2, mix: mix2, full: full2 },
  { title: '3s5z', unit: '1e8', ticks: ticksHalf3, last: 3.3, steps: s3, obs: obs3, mix: mix3, full: full3 },
  { title: '1c3s5z', unit: '1e8', ticks: ticksHalf25, last: 2.7, steps: s4, obs: obs4, mix: mix4, full: full4 },
  { title: '10m_vs_11m', unit: '1e8', ticks: ticksHalf3, last: 2.94, steps: s5, obs: obs5, mix: mix5, full: full5,
    obsBand: [obsLo5, obsHi5], mixBand: [mixLo5, mixHi5], fullBand: [fullLo5, fullHi5] },
  { title: '2c_vs_64zg', unit: '1e8', ticks: ticksHalf25, last: 2.73, steps: s6, obs: obs6, mix: mix6, full: full6 },
  { title: 'bane_vs_bane', unit: '1e8', ticks: ticksFifth14, last: 1.41, steps: s7, obs: obs7, mix: mix7, full: full7,
    fullBand: [fullLo7, fullHi7] },
  { title: '5m_vs_6m', unit: '1e8', ticks: ticksHalf3, last: 3.28, steps: s8, obs: obs8, mix: mix8, full: full8,
    obsBand: [obsLo8, obsHi8], mixBand: [mixLo8, mixHi8] },
  { title: '3s_vs_5z', unit: '1e8', ticks: ticksHalf3, last: 3.3, steps: s9, obs: obs9, mix: mix9, full: full9 },
  { title: '3s5z_vs_3s6z', unit: '1e8', ticks: ticksHalf3, last: 3.3, steps: s10, obs: obs10, mix: mix10, full: full10,
    obsBand: [obsLo10, obsHi10], mixBand: [mixLo10, mixHi10] },
  { title: '6h_vs_8z', unit: '1e8', ticks: ticksHalf3, last: 3.28, steps: s11, obs: obs11, mix: mix11, full: full11,
    obsBand: [obsLo11, obsHi11], mixBand: [mixLo11, mixHi11], fullBand: [fullLo11, fullHi11] },
  { title: '27m_vs_30m', unit: '1e8', ticks: ticksFifth14, last: 1.51, steps: s12, obs: obs12, mix: mix12, full: full12 },
  { title: 'MMM2', unit: '1e8', ticks: ticksHalf3, last: 2.93, steps: s13, obs: obs13, mix: mix13, full: full13 },
  { title: 'corridor', unit: '1e8', ticks: ticksHalf3, last: 2.93, steps: s14, obs: obs14, mix: mix14, full: full14,
    obsBand: [obsLo14, obsHi14], mixBand: [mixLo14, mixHi14] },
]

// axes boxes in the figure
const colLeft = [95, 882, 1670]
const rowTop = [57, 534.7, 1012.3, 1490, 1968]
const PW = 660
const PH = 354
const ML = 90
const MT = 60
const MR = 20
const XH = 70
const CW = ML + PW + MR
const CH = MT + PH + XH

const XTick = ({ x, y, payload }: any) => (
  <text x={x} y={y + 25.5} textAnchor="middle" fontSize={16.5} fontFamily={FONT} fill="#000">
    {Number(payload.value).toFixed(1)}
  </text>
)

const YTick = ({ x, y, payload }: any) => (
  <text x={x - 12.5} y={y + 6} textAnchor="end" fontSize={16.5} fontFamily={FONT} fill="#000">
    {Number(payload.value).toFixed(1)}
  </text>
)

function Panel({ def, left, top }: { def: PanelDef; left: number; top: number }) {
  const rows = def.steps.map((x, i) => ({
    x,
    obs: def.obs[i],
    mix: def.mix[i],
    full: def.full[i],
    obsBand: def.obsBand ? [def.obsBand[0][i], def.obsBand[1][i]] : undefined,
    mixBand: def.mixBand ? [def.mixBand[0][i], def.mixBand[1][i]] : undefined,
    fullBand: def.fullBand ? [def.fullBand[0][i], def.fullBand[1][i]] : undefined,
  }))
  const L = def.last
  const cx = ML + PW / 2
  return (
    <div style={{ position: 'absolute', left: left - ML, top: top - MT, width: CW, height: CH }}>
      <ComposedChart width={CW} height={CH} data={rows} margin={{ top: MT, right: MR, left: 0, bottom: 0 }}>
        <CartesianGrid stroke="#d2d2d2" strokeWidth={1.3} />
        <XAxis
          dataKey="x" type="number" domain={[-0.05 * L, 1.05 * L]} ticks={def.ticks} allowDataOverflow
          interval={0} height={XH} tickLine={false} tickSize={0} tickMargin={0}
          axisLine={{ stroke: '#000', strokeWidth: 1.3 }} tick={<XTick />}
        />
        <YAxis
          type="number" domain={[-0.05, 1.05]} ticks={yTicks} allowDataOverflow interval={0}
          width={ML} tickLine={false} tickSize={0} tickMargin={0}
          axisLine={{ stroke: '#000', strokeWidth: 1.3 }} tick={<YTick />}
        />
        {def.obsBand && <Area dataKey="obsBand" type="linear" stroke="none" fill={OBS} fillOpacity={0.1} isAnimationActive={false} />}
        {def.mixBand && <Area dataKey="mixBand" type="linear" stroke="none" fill={MIX} fillOpacity={0.1} isAnimationActive={false} />}
        {def.fullBand && <Area dataKey="fullBand" type="linear" stroke="none" fill={FULL} fillOpacity={0.1} isAnimationActive={false} />}
        <Line dataKey="obs" type="monotone" stroke={OBS} strokeWidth={LW} dot={false} activeDot={false} isAnimationActive={false} />
        <Line dataKey="mix" type="monotone" stroke={MIX} strokeWidth={LW} dot={false} activeDot={false} isAnimationActive={false} />
        <Line dataKey="full" type="monotone" stroke={FULL} strokeWidth={LW} dot={false} activeDot={false} isAnimationActive={false} />
      </ComposedChart>
      <svg width={CW} height={CH} style={{ position: 'absolute', left: 0, top: 0, overflow: 'visible', pointerEvents: 'none' }}>
        <text x={cx} y={MT - 10} textAnchor="middle" fontSize={46} fontFamily={FONT} fill="#000">{def.title}</text>
        <text x={cx} y={MT + PH + 64} textAnchor="middle" fontSize={36} fontFamily={FONT} fill="#000">Steps</text>
        <text x={ML + PW} y={MT + PH + 50} textAnchor="end" fontSize={16.5} fontFamily={FONT} fill="#000">{def.unit}</text>
        <g transform={`translate(${ML - 50},${MT + PH / 2}) rotate(-90)`}>
          <text textAnchor="middle" fontSize={37} fontFamily={FONT} fill="#000">Median Win %</text>
        </g>
      </svg>
    </div>
  )
}

const legendColors = [OBS, MIX, FULL]
const legendRowY = [28, 77, 127.5]

function LegendBox() {
  return (
    <svg width={446} height={160} style={{ position: 'absolute', left: 1865, top: 2145 }}>
      <rect x={1} y={1} width={443} height={157} rx={5} fill="#fff" stroke="#d9d9d9" strokeWidth={2} />
      {seriesNames.map((name, i) => (
        <g key={name}>
          <line x1={13} x2={85} y1={legendRowY[i] + 1} y2={legendRowY[i] + 1} stroke={legendColors[i]} strokeWidth={LW} />
          <text x={109} y={legendRowY[i] + 13} fontSize={33} fontFamily={FONT} fill="#000">{name}</text>
        </g>
      ))}
    </svg>
  )
}

export default function App() {
  return (
    <div style={{ position: 'absolute', left: 0, top: 0, width: 2337, height: 2407, background: '#fff', overflow: 'hidden' }}>
      {panels.map((def, i) => (
        <Panel key={def.title} def={def} left={colLeft[i % 3]} top={rowTop[Math.floor(i / 3)]} />
      ))}
      <LegendBox />
    </div>
  )
}
